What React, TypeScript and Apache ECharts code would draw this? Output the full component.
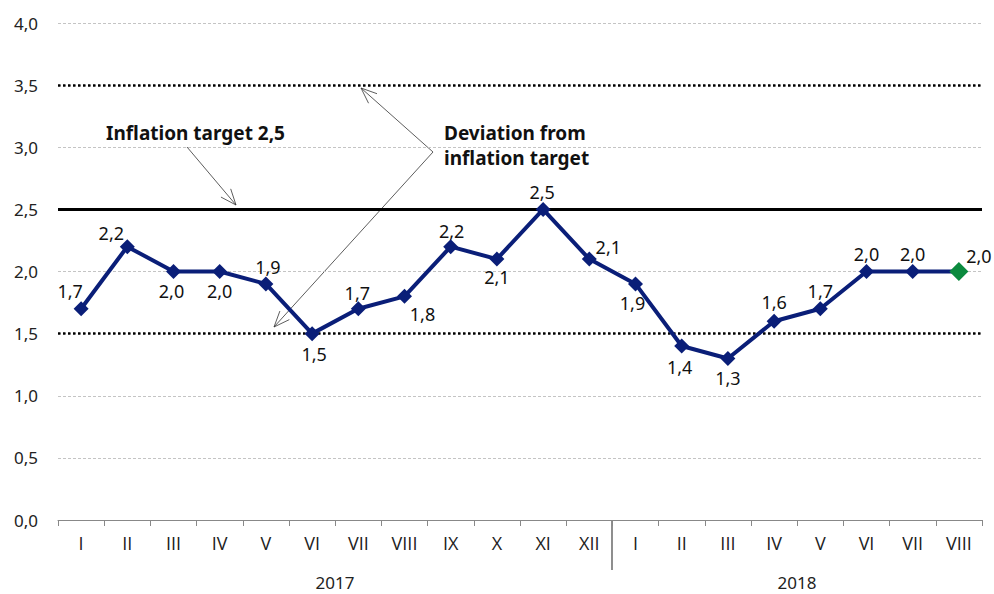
import React, { useEffect, useRef } from "react";
import * as echarts from "echarts";

const months = ["I", "II", "III", "IV", "V", "VI", "VII", "VIII", "IX", "X", "XI", "XII", "I", "II", "III", "IV", "V", "VI", "VII", "VIII"];
const inflation = [1.7, 2.2, 2.0, 2.0, 1.9, 1.5, 1.7, 1.8, 2.2, 2.1, 2.5, 2.1, 1.9, 1.4, 1.3, 1.6, 1.7, 2.0, 2.0, 2.0];
const years = ["2017", "2018"];
const targetValue = 2.5;
const bandLow = 1.5;
const bandHigh = 3.5;

const labelOffsets: number[][] = [
  [-11, -18], [-16, -14], [-2, 19], [0, 19], [2, -17], [2, 20], [-1, -16], [18, 18], [1, -16], [0, 18],
  [-1, -17], [19, -12], [-3, 19], [-2, 21], [0, 20], [0, -19], [0, -18], [0, -18], [0, -18], [20, -16],
];

const FONT = "Noto Sans";
const AXFONT = "Open Sans";
const NAVY = "#0a1e78";
const GREEN = "#0b8a3e";

function arrow(x1: number, y1: number, x2: number, y2: number) {
  const ang = Math.atan2(y1 - y2, x1 - x2);
  const len = 17;
  const spread = (22 * Math.PI) / 180;
  const a1 = [x2 + len * Math.cos(ang + spread), y2 + len * Math.sin(ang + spread)];
  const a2 = [x2 + len * Math.cos(ang - spread), y2 + len * Math.sin(ang - spread)];
  const style = { stroke: "#333", lineWidth: 0.8, fill: null as any };
  return [
    { type: "line", shape: { x1, y1, x2, y2 }, style },
    { type: "polyline", shape: { points: [a1, [x2, y2], a2] }, style },
  ];
}

export default function App() {
  const ref = useRef<HTMLDivElement>(null);
  useEffect(() => {
    const chart = echarts.init(ref.current!, undefined, { renderer: "svg" });
    const last = inflation.length - 1;
    const data = inflation.map((v, i) => ({
      value: v,
      symbolSize: i === last ? 19 : 15,
      itemStyle: { color: i === last ? GREEN : NAVY },
      label: { offset: labelOffsets[i] },
    }));
    chart.setOption({
      animation: false,
      textStyle: { fontFamily: FONT },
      grid: { left: 58, right: 12, top: 23, bottom: 74 },
      xAxis: {
        type: "category",
        data: months,
        boundaryGap: true,
        axisLine: { lineStyle: { color: "#888", width: 1 } },
        axisTick: { show: true, interval: 0, length: 6, lineStyle: { color: "#888" } },
        axisLabel: { interval: 0, margin: 14, fontSize: 18, color: "#222", fontFamily: AXFONT },
        splitLine: { show: false },
      },
      yAxis: {
        type: "value",
        min: 0,
        max: 4,
        interval: 0.5,
        axisLine: { show: false },
        axisTick: { show: false },
        axisLabel: {
          margin: 20,
          fontSize: 17,
          color: "#222",
          fontFamily: FONT,
          formatter: (v: number) => v.toFixed(1).replace(".", ","),
        },
        splitLine: { show: true, lineStyle: { color: "#c4c4c4", type: [3, 2], width: 1 } },
      },
      series: [
        {
          type: "line",
          data,
          symbol: "diamond",
          lineStyle: { color: NAVY, width: 4 },
          z: 5,
          label: {
            show: true,
            position: "inside",
            fontSize: 18,
            color: "#111",
            fontFamily: FONT,
            formatter: (p: any) => p.value.toFixed(1).replace(".", ","),
          },
          markLine: {
            silent: true,
            symbol: "none",
            label: { show: false },
            z: 3,
            data: [
              { yAxis: targetValue, lineStyle: { color: "#000", width: 3, type: "solid" } },
              { yAxis: bandLow, lineStyle: { color: "#000", width: 2.5, type: [2.5, 2.5] } },
              { yAxis: bandHigh, lineStyle: { color: "#000", width: 2.5, type: [2.5, 2.5] } },
            ],
          },
        },
      ],
      graphic: [
        { type: "text", x: 335, y: 582, style: { text: years[0], fontSize: 17, fill: "#222", fontFamily: FONT, align: "center", verticalAlign: "middle" } },
        { type: "text", x: 797, y: 582, style: { text: years[1], fontSize: 17, fill: "#222", fontFamily: FONT, align: "center", verticalAlign: "middle" } },
        { type: "line", shape: { x1: 612, y1: 520, x2: 612, y2: 570 }, style: { stroke: "#444", lineWidth: 1.2 } },
        {
          type: "text", x: 106, y: 133,
          style: { text: "Inflation target 2,5", fontSize: 19, fontWeight: "bold", fill: "#111", fontFamily: FONT, verticalAlign: "middle" },
        },
        {
          type: "text", x: 444, y: 120,
          style: { text: "Deviation from\ninflation target", fontSize: 19, fontWeight: "bold", fill: "#111", fontFamily: FONT, lineHeight: 25, verticalAlign: "top" },
        },
        ...arrow(187, 147, 236, 205),
        ...arrow(433, 152, 361, 88),
        ...arrow(433, 152, 274, 327),
      ],
    });
    return () => chart.dispose();
  }, []);
  return <div ref={ref} style={{ position: "absolute", left: 0, top: 0, width: 994, height: 594 }} />;
}
